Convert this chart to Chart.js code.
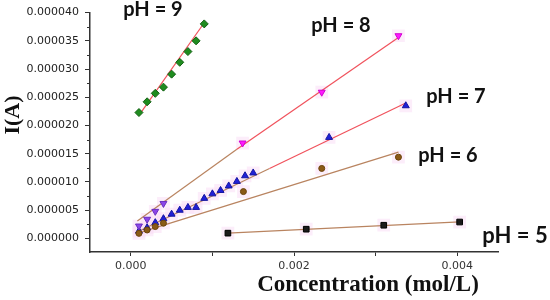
<!DOCTYPE html>
<html>
<head>
<meta charset="utf-8">
<script src="https://cdn.jsdelivr.net/npm/chart.js@4"></script>
<style>
  html, body { margin: 0; padding: 0; background: #fff; }
  #wrap { width: 550px; height: 300px; position: relative; }
</style>
</head>
<body>
<div id="wrap"><canvas id="Chart" width="550" height="300"></canvas></div>
<script>
// current values are in microamps, converted to A below
const uA = 1e-6;

const ph9X = [0.0001, 0.0002, 0.0003, 0.0004, 0.0005, 0.0006, 0.0007, 0.0008, 0.0009];
const ph9Y = [22.3, 24.2, 25.7, 26.8, 29.1, 31.2, 33.1, 35.0, 38.0];

const ph8X = [0.0001, 0.0002, 0.0003, 0.0004, 0.00137, 0.00234, 0.00328];
const ph8Y = [2.2, 3.4, 4.8, 6.2, 16.9, 25.9, 35.9];

const ph7X = [0.0001, 0.0002, 0.0003, 0.0004, 0.0005, 0.0006, 0.0007, 0.0008, 0.0009, 0.001,
              0.0011, 0.0012, 0.0013, 0.0014, 0.0015, 0.00243, 0.00337];
const ph7Y = [1.3, 1.9, 2.8, 3.5, 4.3, 5.0, 5.5, 5.5, 7.1, 7.9, 8.5, 9.3, 10.1, 11.1, 11.6, 17.9, 23.5];

const ph6X = [0.0001, 0.0002, 0.0003, 0.0004, 0.00138, 0.00234, 0.00328];
const ph6Y = [0.9, 1.5, 2.1, 2.7, 8.3, 12.4, 14.4];

const ph5X = [0.00119, 0.00215, 0.0031, 0.00403];
const ph5Y = [0.94, 1.64, 2.34, 2.91];

// fitted lines: low range (tan) and full range (red) end points
const fit9X = [0.0001, 0.0009];           const fit9Y = [21.8, 38.2];
const fit8LowX = [0.00008, 0.0013];       const fit8LowY = [3.1, 15.8];
const fit8X = [0.0013, 0.00328];          const fit8Y = [15.8, 35.6];
const fit7LowX = [0.00006, 0.0017];       const fit7LowY = [1.0, 12.4];
const fit7X = [0.0017, 0.00337];          const fit7Y = [12.4, 24.0];
const fit6X = [0.00006, 0.00328];         const fit6Y = [0.8, 15.3];
const fit5X = [0.00119, 0.00403];         const fit5Y = [0.94, 2.95];

const xTicks = [0, 0.001, 0.002, 0.003, 0.004];
const xLabelTicks = [0, 0.002, 0.004];
const yTicks = [0, 5, 10, 15, 20, 25, 30, 35, 40];
const yMinorTicks = [2.5, 7.5, 12.5, 17.5, 22.5, 27.5, 32.5, 37.5];

const phNames = ['pH = 9', 'pH = 8', 'pH = 7', 'pH = 6', 'pH = 5'];

function pts(xs, ys){
  return xs.map((x, i) => ({x: x, y: ys[i] * uA}));
}

const red = '#f0525c';
const tan = '#b98460';
const halo = 'rgba(250, 222, 246, 0.55)';

function fitLine(xs, ys, color){
  return { data: pts(xs, ys), showLine: true, borderColor: color, borderWidth: 1.2, pointRadius: 0, order: 2 };
}
function haloSet(xs, ys){
  return { data: pts(xs, ys), pointStyle: 'rect', pointRadius: 9, backgroundColor: halo, borderWidth: 0, order: 3 };
}

const extras = {
  id: 'extras',
  afterDraw(chart){
    const ctx = chart.ctx;
    const xs = chart.scales.x, ys = chart.scales.y;
    ctx.save();
    // minor y ticks
    ctx.strokeStyle = '#333';
    ctx.lineWidth = 1;
    yMinorTicks.forEach(v => {
      const py = Math.round(ys.getPixelForValue(v * uA)) + 0.5;
      ctx.beginPath();
      ctx.moveTo(xs.left - 3, py);
      ctx.lineTo(xs.left, py);
      ctx.stroke();
    });
    // pH labels
    ctx.fillStyle = '#111';
    ctx.textAlign = 'center';
    ctx.textBaseline = 'alphabetic';
    const spots = [
      [153, 16, 20], [341, 32, 20], [456, 103, 20], [448, 162, 20], [515, 243, 22]
    ];
    phNames.forEach((t, i) => {
      ctx.font = 'bold ' + spots[i][2] + 'px Lato';
      ctx.fillText(t, spots[i][0], spots[i][1]);
    });
    // axis titles
    ctx.font = 'bold 23px "Liberation Serif"';
    ctx.textBaseline = 'middle';
    ctx.fillText('Concentration (mol/L)', 368, 285);
    ctx.translate(13, 115);
    ctx.rotate(-Math.PI / 2);
    ctx.font = 'bold 22px "Liberation Serif"';
    ctx.fillText('I(A)', 0, 0);
    ctx.restore();
  }
};

const ctx = document.getElementById('Chart').getContext('2d');
const myChart = new Chart(ctx, {
  type: 'scatter',
  data: {
    datasets: [
      haloSet(ph8X, ph8Y),
      haloSet(ph7X, ph7Y),
      haloSet(ph6X, ph6Y),
      haloSet(ph5X, ph5Y),
      fitLine(fit9X, fit9Y, red),
      fitLine(fit8X, fit8Y, red),
      fitLine(fit8LowX, fit8LowY, tan),
      fitLine(fit7X, fit7Y, red),
      fitLine(fit7LowX, fit7LowY, tan),
      fitLine(fit6X, fit6Y, tan),
      fitLine(fit5X, fit5Y, tan),
      { label: 'pH = 9', data: pts(ph9X, ph9Y), pointStyle: 'rectRot', pointRadius: 4,
        backgroundColor: '#1f8c1f', borderColor: '#136013', borderWidth: 1, order: 1 },
      { label: 'pH = 5', data: pts(ph5X, ph5Y), pointStyle: 'rect', pointRadius: 4,
        backgroundColor: '#1a1a1a', borderColor: '#000', borderWidth: 1, order: 1 },
      { label: 'pH = 6', data: pts(ph6X, ph6Y), pointStyle: 'circle', pointRadius: 3,
        backgroundColor: '#8a5a16', borderColor: '#6b430c', borderWidth: 1, order: 1 },
      { label: 'pH = 7', data: pts(ph7X, ph7Y), pointStyle: 'triangle', pointRadius: 4,
        backgroundColor: '#2020d8', borderColor: '#1414a0', borderWidth: 1, order: 1 },
      { label: 'pH = 8', data: pts(ph8X, ph8Y), pointStyle: 'triangle', pointRotation: 180, pointRadius: 4,
        backgroundColor: ['#8b45e8', '#8b45e8', '#8b45e8', '#8b45e8', '#ff18ff', '#ff18ff', '#ff18ff'],
        borderColor: ['#6a2cc0', '#6a2cc0', '#6a2cc0', '#6a2cc0', '#d000d0', '#d000d0', '#d000d0'],
        borderWidth: 1, order: 0 }
    ]
  },
  options: {
    responsive: false,
    maintainAspectRatio: false,
    animation: false,
    devicePixelRatio: 1,
    layout: { padding: { left: 0, right: 52, top: 8, bottom: 0 } },
    plugins: { legend: { display: false }, tooltip: { enabled: false } },
    scales: {
      x: {
        type: 'linear',
        min: -0.0005,
        max: 0.0045,
        afterFit: s => { s.height = 48; },
        afterBuildTicks: s => { s.ticks = xTicks.map(v => ({value: v})); },
        grid: { display: true, drawOnChartArea: false, drawTicks: true, tickLength: 4, color: '#333' },
        border: { display: true, color: '#333', width: 1.5 },
        ticks: {
          padding: 4,
          color: '#333',
          font: { family: 'DejaVu Sans', size: 11 },
          callback: v => xLabelTicks.some(t => Math.abs(t - v) < 1e-9) ? v.toFixed(3) : ''
        }
      },
      y: {
        type: 'linear',
        min: -2.4 * uA,
        max: 40 * uA,
        afterFit: s => { s.width = 90; },
        afterBuildTicks: s => { s.ticks = yTicks.map(v => ({value: v * uA})); },
        grid: { display: true, drawOnChartArea: false, drawTicks: true, tickLength: 5, color: '#333' },
        border: { display: true, color: '#333', width: 1.5 },
        ticks: {
          padding: 6,
          color: '#222',
          font: { family: 'DejaVu Sans', size: 11 },
          callback: v => v.toFixed(6)
        }
      }
    }
  },
  plugins: [extras]
});
</script>
</body>
</html>
